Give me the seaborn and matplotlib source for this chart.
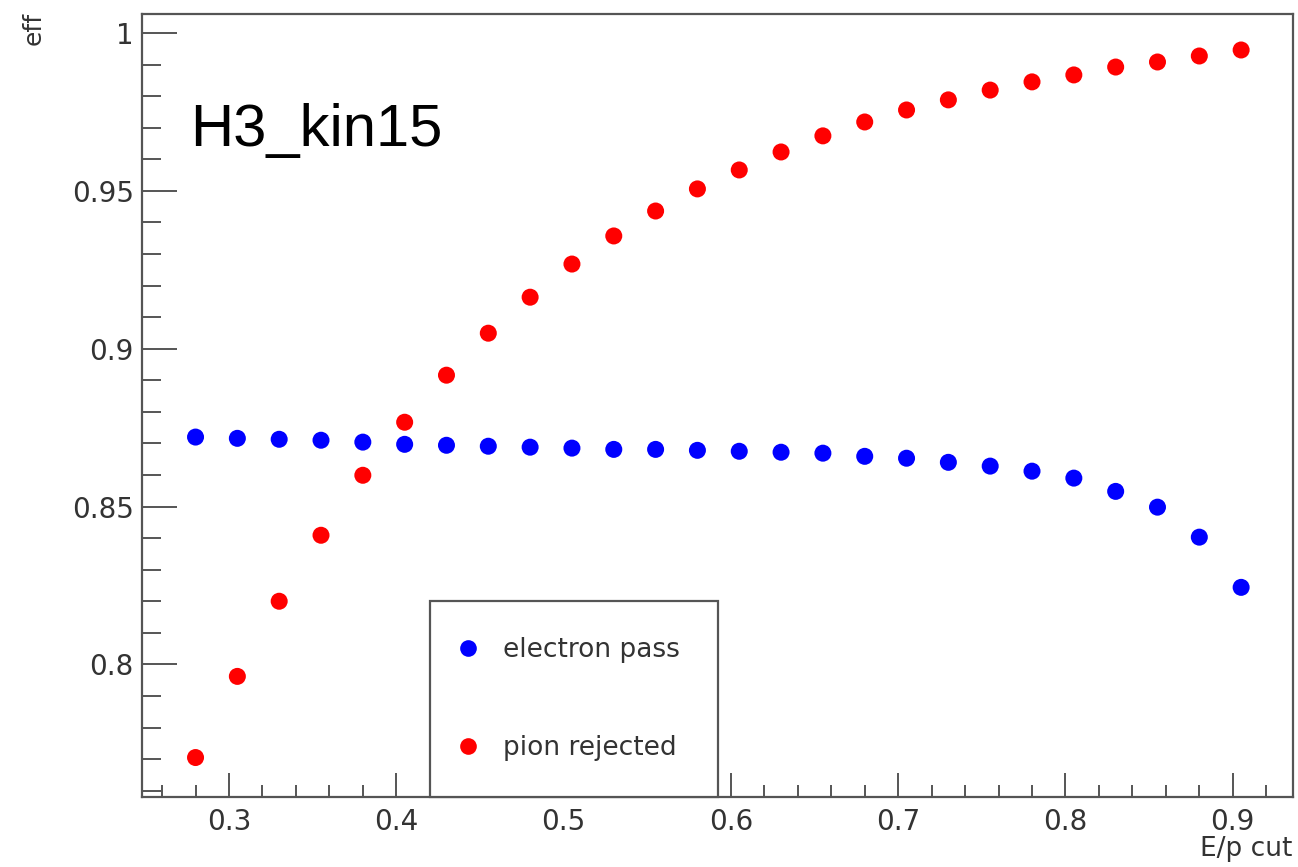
import numpy as np
import pandas as pd
import matplotlib
matplotlib.use("Agg")
import matplotlib.pyplot as plt
from matplotlib.ticker import MultipleLocator
import seaborn as sns

# ---- data ----
ep_cut = [0.280, 0.305, 0.330, 0.355, 0.380, 0.405, 0.430, 0.455, 0.480, 0.505,
          0.530, 0.555, 0.580, 0.605, 0.630, 0.655, 0.680, 0.705, 0.730, 0.755,
          0.780, 0.805, 0.830, 0.855, 0.880, 0.905]
electron_pass = [0.8720, 0.8716, 0.8713, 0.8710, 0.8704, 0.8697, 0.8694, 0.8691, 0.8688, 0.8685,
                 0.8681, 0.8681, 0.8678, 0.8675, 0.8672, 0.8669, 0.8659, 0.8653, 0.8640, 0.8628,
                 0.8612, 0.8590, 0.8548, 0.8498, 0.8403, 0.8244]
pion_rejected = [0.7705, 0.7962, 0.8200, 0.8409, 0.8599, 0.8767, 0.8916, 0.9049, 0.9163, 0.9268,
                 0.9357, 0.9436, 0.9506, 0.9566, 0.9623, 0.9674, 0.9718, 0.9756, 0.9788, 0.9819,
                 0.9845, 0.9867, 0.9892, 0.9908, 0.9927, 0.9946]
series_names = ["electron pass", "pion rejected"]
series_colors = ["#0000ff", "#ff0000"]
title_text = "H3_kin15"
x_label = "E/p cut"
y_label = "eff"

df = pd.DataFrame({
    "cut": ep_cut * 2,
    "eff": electron_pass + pion_rejected,
    "series": [series_names[0]] * len(ep_cut) + [series_names[1]] * len(ep_cut),
})

sns.set_style("ticks")
plt.rcParams["font.family"] = ["DejaVu Sans"]

W, H = 1298, 867
fig = plt.figure(figsize=(W / 100, H / 100), dpi=100)
ax = fig.add_axes([142 / W, 1 - 797 / H, 1151 / W, 783 / H])

sns.scatterplot(data=df, x="cut", y="eff", hue="series", hue_order=series_names,
                palette=series_colors, s=150, edgecolor="none", ax=ax, legend=False)

ax.set_xlim(0.248, 0.936)
ax.set_ylim(0.758, 1.006)
ax.xaxis.set_minor_locator(MultipleLocator(0.02))
ax.yaxis.set_minor_locator(MultipleLocator(0.01))
ax.set_xticks([0.3, 0.4, 0.5, 0.6, 0.7, 0.8, 0.9])
ax.set_xticklabels(["0.3", "0.4", "0.5", "0.6", "0.7", "0.8", "0.9"])
ax.set_yticks([0.8, 0.85, 0.9, 0.95, 1.0])
ax.set_yticklabels(["0.8", "0.85", "0.9", "0.95", "1"])

grey = "#555555"
txt = "#333333"
for sp in ax.spines.values():
    sp.set_visible(True)
    sp.set_color(grey)
    sp.set_linewidth(1.6)
ax.tick_params(axis="both", which="both", direction="in", color=grey, width=1.4,
               labelsize=20, labelcolor=txt)
ax.tick_params(axis="y", which="major", length=25, pad=6)
ax.tick_params(axis="y", which="minor", length=14)
ax.tick_params(axis="x", which="major", length=17, pad=8)
ax.tick_params(axis="x", which="minor", length=9)

ax.set_xlabel("")
ax.set_ylabel("")
fig.text(1292 / W, 1 - 836 / H, x_label, ha="right", va="top", fontsize=19, color=txt)
fig.text(34 / W, 1 - 12 / H, y_label, ha="center", va="top", rotation=90, fontsize=18, color=txt)
ax.text((190 - 142) / 1151, 1 - (130 - 14) / 783, title_text, transform=ax.transAxes,
        ha="left", va="center", fontsize=43, color="black", family="Liberation Sans")

handles = [plt.Line2D([], [], linestyle="none", marker="o", markersize=12,
                      markerfacecolor=c, markeredgecolor="none") for c in series_colors]
leg = ax.legend(handles, series_names, loc="lower left", bbox_to_anchor=(0.2502, 0.0, 0.2502, 0.2503),
                mode="expand", borderaxespad=0, frameon=True, fancybox=False, fontsize=19,
                labelspacing=2.75, borderpad=1.35, handlelength=0.2, handletextpad=1.2,
                labelcolor=txt)
fr = leg.get_frame()
fr.set_edgecolor(grey)
fr.set_linewidth(1.6)
fr.set_facecolor("white")
fr.set_alpha(1)

fig.savefig("out.png", dpi=100, facecolor="white")
